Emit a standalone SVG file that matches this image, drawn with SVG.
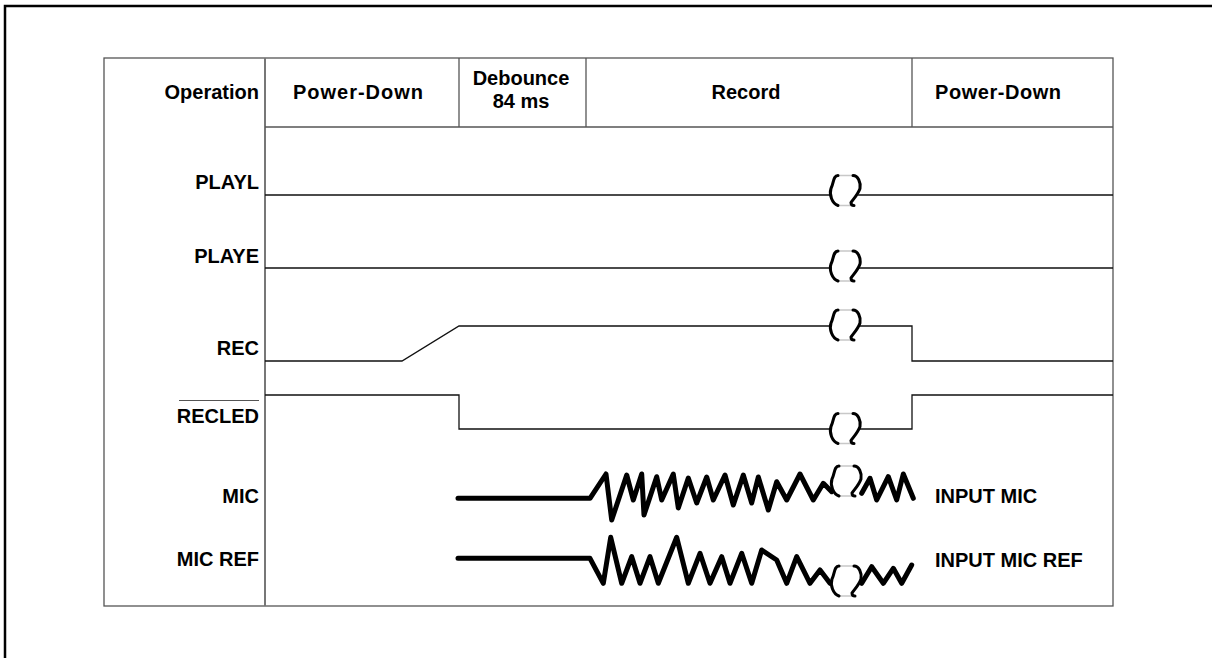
<svg xmlns="http://www.w3.org/2000/svg" xmlns:xlink="http://www.w3.org/1999/xlink" width="1212" height="658" viewBox="0 0 1212 658">
<style>
text{font-family:"Liberation Sans",Arial,sans-serif;font-weight:bold;font-size:20px;fill:#000}
.r{text-anchor:end}.m{text-anchor:middle}
.grid{stroke:#555;stroke-width:1.3;fill:none}
.sig{stroke:#111;stroke-width:1.3;fill:none}
.wave{stroke:#000;stroke-width:5;fill:none;stroke-linejoin:round;stroke-linecap:round}
</style>
<defs>
<g id="brk">
<path d="M-8,-14 L-12,-6 L-13,6 L-8,14 L8,14 L13,6 L14,-6 L8,-14 Z" fill="#fff" stroke="none"/>
<path d="M-7,-15 H8 M-7,15 H8" stroke="#c8c8c8" stroke-width="1.5"/>
<path d="M-7,-15 C-12,-15 -11,-8 -14,-2 C-16,4 -13,13 -7,15" stroke="#000" stroke-width="3" fill="none" stroke-linecap="round"/>
<path d="M8,-15 C13,-15 16,-8 15,-2 C13,4 8,9 6,12 C6,14 7,15 9,15" stroke="#000" stroke-width="3" fill="none" stroke-linecap="round"/>
</g>
</defs>
<rect width="1212" height="658" fill="#fff"/>
<g id="frame"><path d="M5,658 V6 H1212" stroke="#000" stroke-width="2.5" fill="none"/></g>
<g id="table">
<rect x="104" y="58" width="1009" height="548" class="grid"/>
<line x1="265" y1="58" x2="265" y2="606" stroke="#777" stroke-width="2"/>
<line x1="265" y1="127" x2="1113" y2="127" class="grid"/>
<line x1="459" y1="58" x2="459" y2="127" class="grid"/>
<line x1="586" y1="58" x2="586" y2="127" class="grid"/>
<line x1="912" y1="58" x2="912" y2="127" class="grid"/>
</g>
<g id="header">
<text x="259" y="99" class="r">Operation</text>
<text x="358" y="99" class="m" textLength="130" lengthAdjust="spacing">Power-Down</text>
<text x="521" y="85" class="m">Debounce</text>
<text x="521" y="108" class="m">84 ms</text>
<text x="746" y="99" class="m">Record</text>
<text x="998" y="99" class="m" textLength="126" lengthAdjust="spacing">Power-Down</text>
</g>
<g id="labels">
<text x="259" y="189" class="r">PLAYL</text>
<text x="259" y="263" class="r">PLAYE</text>
<text x="259" y="355" class="r">REC</text>
<text x="259" y="423" class="r">RECLED</text>
<line x1="179" y1="400.5" x2="259" y2="400.5" stroke="#555" stroke-width="1.2"/>
<text x="259" y="503" class="r">MIC</text>
<text x="259" y="566" class="r">MIC REF</text>
<text x="935" y="503">INPUT MIC</text>
<text x="935" y="567">INPUT MIC REF</text>
</g>
<g id="connectors">
<path class="sig" d="M265,195 H832 M858,195 H1113"/>
<path class="sig" d="M265,268 H832 M858,268 H1113"/>
<path class="sig" d="M265,361 H402 L459,326 H832 M858,326 H912 V361 H1113"/>
<path class="sig" d="M265,395 H459 V429 H832 M858,429 H912 V395 H1113"/>
<use xlink:href="#brk" x="845" y="190.5"/>
<use xlink:href="#brk" x="845" y="266"/>
<use xlink:href="#brk" x="845" y="325"/>
<use xlink:href="#brk" x="845" y="428.5"/>
<path class="wave" d="M458,498.3 H590 L606,474 L611.7,520 L626.7,475 L633.3,500 L641.7,474 L644,515 L656.7,476.7 L661.7,500 L673.3,474 L678.3,508 L688.3,478 L696.7,503 L706.7,477 L713.3,500 L725,475 L733.3,505 L743.3,475 L751.7,503 L758.3,477 L768.3,510 L776.7,481.7 L786.7,500 L800,474 L813.3,500 L823.3,483.3 L831.7,491.7"/>
<path class="wave" d="M861.7,493.3 L870,478.3 L876.7,500 L888.3,476.7 L896.7,500 L903.3,474 L913.3,498.3"/>
<use xlink:href="#brk" x="846" y="481"/>
<path class="wave" d="M458,558.3 H590 L603.3,583.3 L610.7,537.3 L621.7,583.3 L631.7,556.7 L640,583.3 L650,556.7 L658.3,583.3 L676.7,537.3 L688.3,583.3 L700,553.3 L710,583.3 L721.7,556.7 L730,583.3 L741.7,553.3 L751.7,583.3 L761.7,550 L776.7,560 L786.7,583.3 L796.7,556.7 L810,583.3 L820,570 L830,583.3"/>
<path class="wave" d="M861.7,583.3 L871.7,566.7 L883.3,583.3 L893.3,568.3 L901.7,583.3 L911.7,565"/>
<use xlink:href="#brk" x="846" y="581"/>
</g>
</svg>
